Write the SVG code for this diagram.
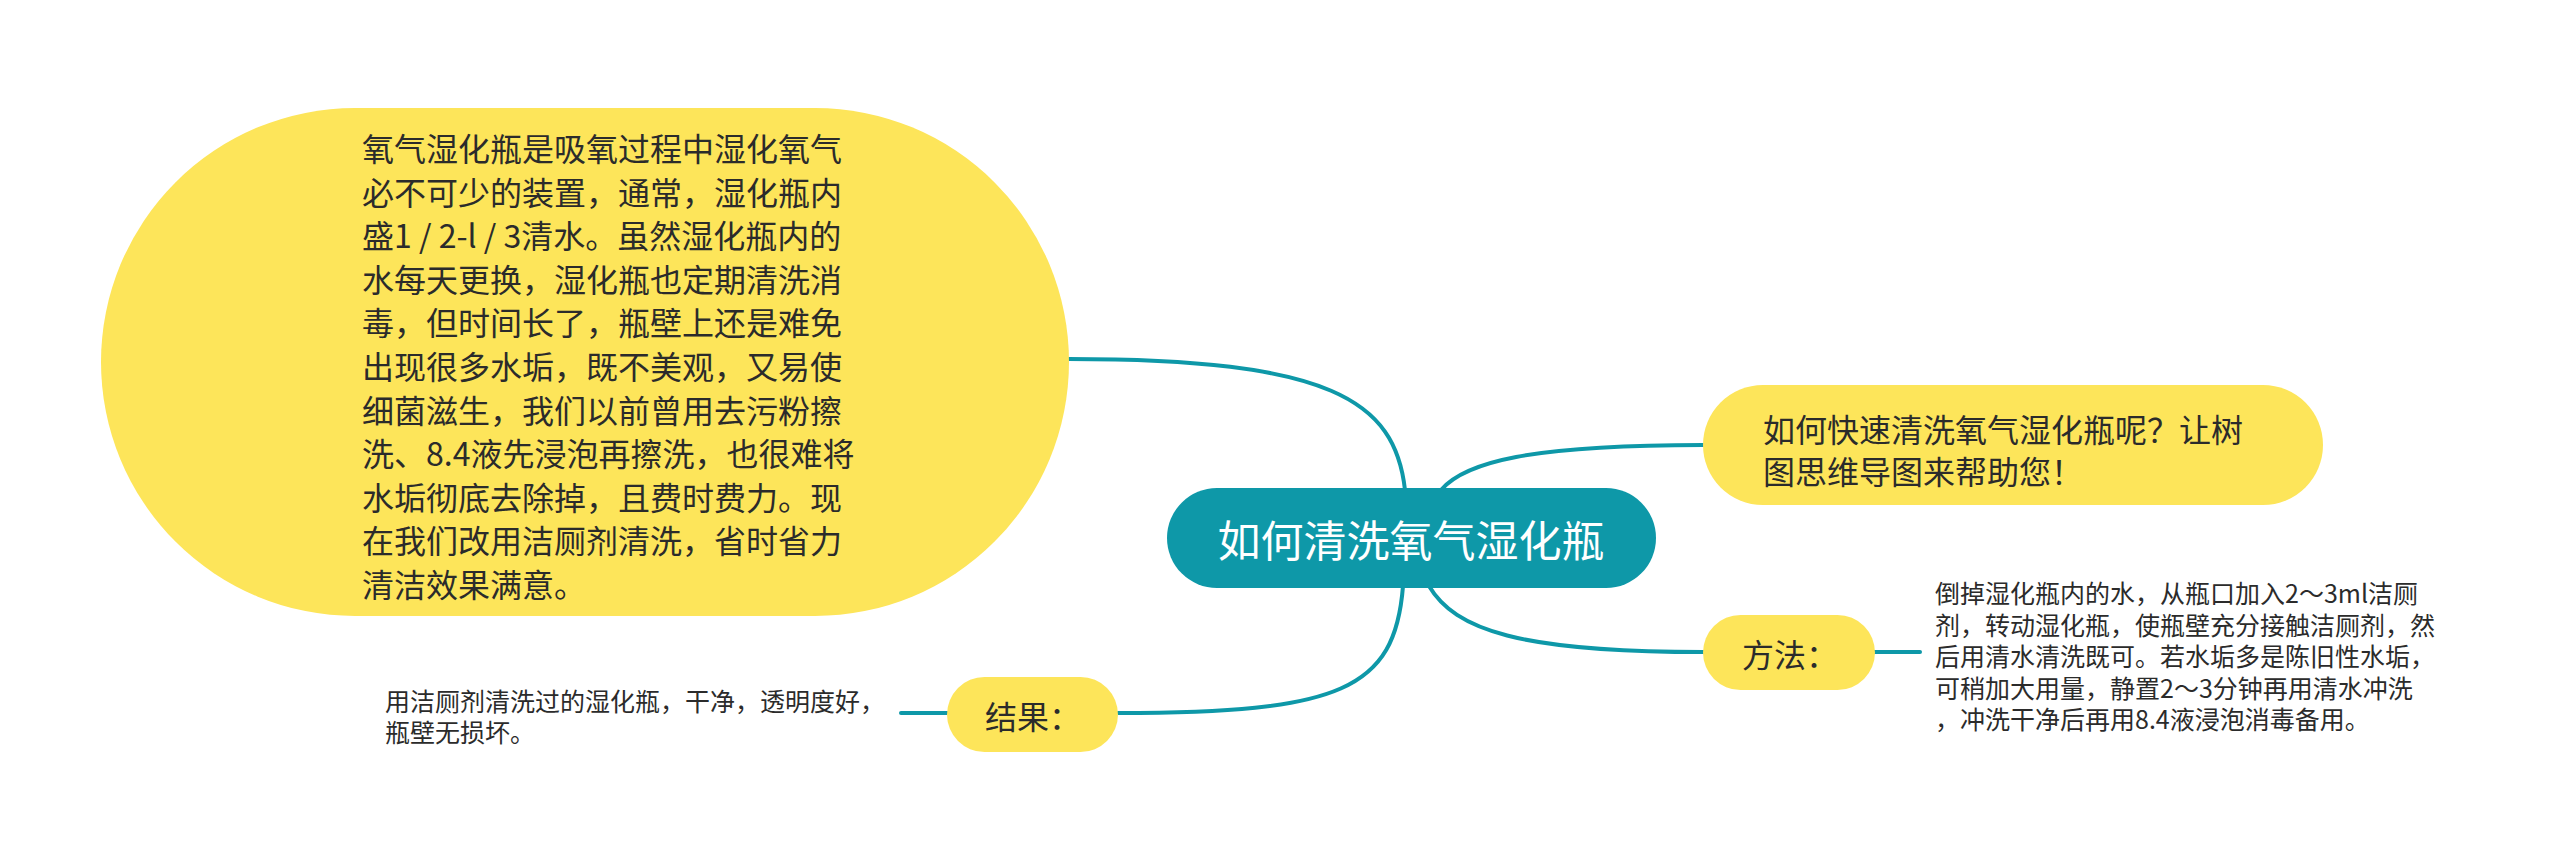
<svg xmlns="http://www.w3.org/2000/svg" width="2560" height="868" viewBox="0 0 2560 868">
<style>
.yel{fill:#fde55a;}
.ctr{fill:#0e98a8;}
.t{font-family:"Noto Sans CJK SC","Microsoft YaHei",sans-serif;fill:#2b2b2b;dominant-baseline:central;}
.t32{font-size:32px;}
.t25{font-size:25px;}
.tc{font-family:"Noto Sans CJK SC","Microsoft YaHei",sans-serif;fill:#ffffff;font-size:43px;dominant-baseline:central;text-anchor:middle;}
.ln{fill:none;stroke:#0e98a8;stroke-width:4;stroke-linecap:round;}
</style>
<rect width="2560" height="868" fill="#ffffff"/>
<g id="connectors">
<path class="ln" d="M1405,490 C1395,400 1330,359 1069,359"/>
<path class="ln" d="M1441,490 C1465,462 1530,445 1703,445"/>
<path class="ln" d="M1429,586 C1455,630 1520,652 1703,652"/>
<path class="ln" d="M1403,586 C1395,690 1340,713 1118,713"/>
<path class="ln" d="M1874,652 L1920,652"/>
<path class="ln" d="M947,713 L901,713"/>
</g>
<g id="node-desc">
<rect class="yel" x="101" y="108" width="968" height="508" rx="254" ry="254"/>
<text class="t t32" x="362" y="147">氧气湿化瓶是吸氧过程中湿化氧气</text>
<text class="t t32" x="362" y="190.6">必不可少的装置，通常，湿化瓶内</text>
<text class="t t32" x="362" y="234.2">盛1 / 2-l / 3清水。虽然湿化瓶内的</text>
<text class="t t32" x="362" y="277.8">水每天更换，湿化瓶也定期清洗消</text>
<text class="t t32" x="362" y="321.4">毒，但时间长了，瓶壁上还是难免</text>
<text class="t t32" x="362" y="365">出现很多水垢，既不美观，又易使</text>
<text class="t t32" x="362" y="408.6">细菌滋生，我们以前曾用去污粉擦</text>
<text class="t t32" x="362" y="452.2">洗、8.4液先浸泡再擦洗，也很难将</text>
<text class="t t32" x="362" y="495.8">水垢彻底去除掉，且费时费力。现</text>
<text class="t t32" x="362" y="539.4">在我们改用洁厕剂清洗，省时省力</text>
<text class="t t32" x="362" y="583">清洁效果满意。</text>
</g>
<g id="node-center">
<rect class="ctr" x="1167" y="488" width="489" height="100" rx="50" ry="50"/>
<text class="tc" x="1411" y="538">如何清洗氧气湿化瓶</text>
</g>
<g id="node-intro">
<rect class="yel" x="1703" y="385" width="620" height="120" rx="60" ry="60"/>
<text class="t t32" x="1763" y="428">如何快速清洗氧气湿化瓶呢？让树</text>
<text class="t t32" x="1763" y="470">图思维导图来帮助您！</text>
</g>
<g id="node-method">
<rect class="yel" x="1703" y="615" width="172" height="75" rx="37.5" ry="37.5"/>
<text class="t t32" x="1742" y="653">方法：</text>
</g>
<g id="node-method-text">
<text class="t t25" x="1935" y="592">倒掉湿化瓶内的水，从瓶口加入2～3ml洁厕</text>
<text class="t t25" x="1935" y="624">剂，转动湿化瓶，使瓶壁充分接触洁厕剂，然</text>
<text class="t t25" x="1935" y="655">后用清水清洗既可。若水垢多是陈旧性水垢，</text>
<text class="t t25" x="1935" y="687">可稍加大用量，静置2～3分钟再用清水冲洗</text>
<text class="t t25" x="1935" y="718">，冲洗干净后再用8.4液浸泡消毒备用。</text>
</g>
<g id="node-result">
<rect class="yel" x="947" y="677" width="171" height="75" rx="37.5" ry="37.5"/>
<text class="t t32" x="985" y="715">结果：</text>
</g>
<g id="node-result-text">
<text class="t t25" x="385" y="700">用洁厕剂清洗过的湿化瓶，干净，透明度好，</text>
<text class="t t25" x="385" y="731">瓶壁无损坏。</text>
</g>
</svg>
